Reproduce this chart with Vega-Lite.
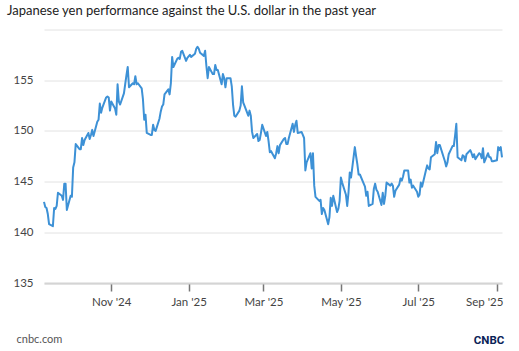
{
  "$schema": "https://vega.github.io/schema/vega-lite/v6.json",
  "autosize": {"type": "none"},
  "width": 458,
  "height": 253.5,
  "padding": {"left": 44, "top": 29.5, "right": 17, "bottom": 68},
  "background": "#ffffff",
  "title": {
    "text": "Japanese yen performance against the U.S. dollar in the past year",
    "anchor": "start",
    "frame": "group",
    "dx": -37,
    "offset": 12,
    "font": "Lato",
    "fontSize": 13,
    "fontWeight": "normal",
    "color": "#222222"
  },
  "config": {
    "view": {"stroke": null},
    "axis": {"labelFont": "Lato", "titleFont": "Lato"}
  },
  "data": {
    "values": [
      {"date": "2024-09-09", "rate": 143.0},
      {"date": "2024-09-10", "rate": 142.5},
      {"date": "2024-09-11", "rate": 142.4},
      {"date": "2024-09-12", "rate": 141.8},
      {"date": "2024-09-13", "rate": 140.8},
      {"date": "2024-09-16", "rate": 140.6},
      {"date": "2024-09-17", "rate": 142.4},
      {"date": "2024-09-18", "rate": 142.3},
      {"date": "2024-09-19", "rate": 142.6},
      {"date": "2024-09-20", "rate": 143.9},
      {"date": "2024-09-23", "rate": 143.6},
      {"date": "2024-09-24", "rate": 143.2},
      {"date": "2024-09-25", "rate": 144.8},
      {"date": "2024-09-26", "rate": 144.8},
      {"date": "2024-09-27", "rate": 142.2},
      {"date": "2024-09-30", "rate": 143.6},
      {"date": "2024-10-01", "rate": 143.5},
      {"date": "2024-10-02", "rate": 146.4},
      {"date": "2024-10-03", "rate": 146.9},
      {"date": "2024-10-04", "rate": 148.7},
      {"date": "2024-10-07", "rate": 148.2},
      {"date": "2024-10-08", "rate": 148.2},
      {"date": "2024-10-09", "rate": 149.3},
      {"date": "2024-10-10", "rate": 148.6},
      {"date": "2024-10-11", "rate": 149.1},
      {"date": "2024-10-14", "rate": 149.8},
      {"date": "2024-10-15", "rate": 149.2},
      {"date": "2024-10-16", "rate": 149.6},
      {"date": "2024-10-17", "rate": 150.1},
      {"date": "2024-10-18", "rate": 149.5},
      {"date": "2024-10-21", "rate": 150.9},
      {"date": "2024-10-22", "rate": 151.1},
      {"date": "2024-10-23", "rate": 152.7},
      {"date": "2024-10-24", "rate": 151.8},
      {"date": "2024-10-25", "rate": 152.3},
      {"date": "2024-10-28", "rate": 153.3},
      {"date": "2024-10-29", "rate": 153.4},
      {"date": "2024-10-30", "rate": 153.3},
      {"date": "2024-10-31", "rate": 152.0},
      {"date": "2024-11-01", "rate": 152.9},
      {"date": "2024-11-04", "rate": 152.2},
      {"date": "2024-11-05", "rate": 151.6},
      {"date": "2024-11-06", "rate": 154.6},
      {"date": "2024-11-07", "rate": 152.9},
      {"date": "2024-11-08", "rate": 152.6},
      {"date": "2024-11-11", "rate": 153.7},
      {"date": "2024-11-12", "rate": 154.6},
      {"date": "2024-11-13", "rate": 155.5},
      {"date": "2024-11-14", "rate": 156.3},
      {"date": "2024-11-15", "rate": 154.3},
      {"date": "2024-11-18", "rate": 154.7},
      {"date": "2024-11-19", "rate": 154.6},
      {"date": "2024-11-20", "rate": 155.4},
      {"date": "2024-11-21", "rate": 154.6},
      {"date": "2024-11-22", "rate": 154.7},
      {"date": "2024-11-25", "rate": 154.2},
      {"date": "2024-11-26", "rate": 153.1},
      {"date": "2024-11-27", "rate": 151.1},
      {"date": "2024-11-28", "rate": 151.6},
      {"date": "2024-11-29", "rate": 149.8},
      {"date": "2024-12-02", "rate": 149.6},
      {"date": "2024-12-03", "rate": 149.6},
      {"date": "2024-12-04", "rate": 150.6},
      {"date": "2024-12-05", "rate": 150.1},
      {"date": "2024-12-06", "rate": 150.0},
      {"date": "2024-12-09", "rate": 151.2},
      {"date": "2024-12-10", "rate": 151.9},
      {"date": "2024-12-11", "rate": 152.4},
      {"date": "2024-12-12", "rate": 152.6},
      {"date": "2024-12-13", "rate": 153.6},
      {"date": "2024-12-16", "rate": 154.1},
      {"date": "2024-12-17", "rate": 153.6},
      {"date": "2024-12-18", "rate": 154.7},
      {"date": "2024-12-19", "rate": 157.3},
      {"date": "2024-12-20", "rate": 156.3},
      {"date": "2024-12-23", "rate": 157.1},
      {"date": "2024-12-24", "rate": 157.2},
      {"date": "2024-12-25", "rate": 157.1},
      {"date": "2024-12-26", "rate": 157.8},
      {"date": "2024-12-27", "rate": 157.9},
      {"date": "2024-12-30", "rate": 156.9},
      {"date": "2024-12-31", "rate": 157.2},
      {"date": "2025-01-02", "rate": 157.5},
      {"date": "2025-01-03", "rate": 157.3},
      {"date": "2025-01-06", "rate": 157.6},
      {"date": "2025-01-07", "rate": 158.1},
      {"date": "2025-01-08", "rate": 158.3},
      {"date": "2025-01-09", "rate": 158.1},
      {"date": "2025-01-10", "rate": 157.7},
      {"date": "2025-01-13", "rate": 157.4},
      {"date": "2025-01-14", "rate": 157.9},
      {"date": "2025-01-15", "rate": 156.4},
      {"date": "2025-01-16", "rate": 155.2},
      {"date": "2025-01-17", "rate": 156.3},
      {"date": "2025-01-20", "rate": 155.6},
      {"date": "2025-01-21", "rate": 155.6},
      {"date": "2025-01-22", "rate": 156.5},
      {"date": "2025-01-23", "rate": 156.0},
      {"date": "2025-01-24", "rate": 156.0},
      {"date": "2025-01-27", "rate": 154.6},
      {"date": "2025-01-28", "rate": 155.6},
      {"date": "2025-01-29", "rate": 155.2},
      {"date": "2025-01-30", "rate": 154.3},
      {"date": "2025-01-31", "rate": 155.2},
      {"date": "2025-02-03", "rate": 155.2},
      {"date": "2025-02-04", "rate": 154.4},
      {"date": "2025-02-05", "rate": 152.6},
      {"date": "2025-02-06", "rate": 151.5},
      {"date": "2025-02-07", "rate": 151.4},
      {"date": "2025-02-10", "rate": 152.0},
      {"date": "2025-02-11", "rate": 152.5},
      {"date": "2025-02-12", "rate": 154.4},
      {"date": "2025-02-13", "rate": 152.8},
      {"date": "2025-02-14", "rate": 152.5},
      {"date": "2025-02-17", "rate": 151.5},
      {"date": "2025-02-18", "rate": 152.0},
      {"date": "2025-02-19", "rate": 151.5},
      {"date": "2025-02-20", "rate": 149.9},
      {"date": "2025-02-21", "rate": 149.3},
      {"date": "2025-02-24", "rate": 149.7},
      {"date": "2025-02-25", "rate": 149.0},
      {"date": "2025-02-26", "rate": 149.1},
      {"date": "2025-02-27", "rate": 149.8},
      {"date": "2025-02-28", "rate": 150.6},
      {"date": "2025-03-03", "rate": 149.5},
      {"date": "2025-03-04", "rate": 149.9},
      {"date": "2025-03-05", "rate": 149.0},
      {"date": "2025-03-06", "rate": 147.9},
      {"date": "2025-03-07", "rate": 148.0},
      {"date": "2025-03-10", "rate": 147.3},
      {"date": "2025-03-11", "rate": 147.8},
      {"date": "2025-03-12", "rate": 148.5},
      {"date": "2025-03-13", "rate": 147.8},
      {"date": "2025-03-14", "rate": 148.6},
      {"date": "2025-03-17", "rate": 149.2},
      {"date": "2025-03-18", "rate": 149.3},
      {"date": "2025-03-19", "rate": 148.7},
      {"date": "2025-03-20", "rate": 148.7},
      {"date": "2025-03-21", "rate": 149.3},
      {"date": "2025-03-24", "rate": 150.7},
      {"date": "2025-03-25", "rate": 149.9},
      {"date": "2025-03-26", "rate": 150.6},
      {"date": "2025-03-27", "rate": 151.0},
      {"date": "2025-03-28", "rate": 149.8},
      {"date": "2025-03-31", "rate": 149.9},
      {"date": "2025-04-01", "rate": 149.6},
      {"date": "2025-04-02", "rate": 149.3},
      {"date": "2025-04-03", "rate": 146.1},
      {"date": "2025-04-04", "rate": 146.9},
      {"date": "2025-04-07", "rate": 147.8},
      {"date": "2025-04-08", "rate": 146.3},
      {"date": "2025-04-09", "rate": 147.8},
      {"date": "2025-04-10", "rate": 144.6},
      {"date": "2025-04-11", "rate": 143.5},
      {"date": "2025-04-14", "rate": 143.1},
      {"date": "2025-04-15", "rate": 143.2},
      {"date": "2025-04-16", "rate": 141.8},
      {"date": "2025-04-17", "rate": 142.4},
      {"date": "2025-04-18", "rate": 142.2},
      {"date": "2025-04-21", "rate": 140.8},
      {"date": "2025-04-22", "rate": 141.5},
      {"date": "2025-04-23", "rate": 143.4},
      {"date": "2025-04-24", "rate": 142.6},
      {"date": "2025-04-25", "rate": 143.6},
      {"date": "2025-04-28", "rate": 142.0},
      {"date": "2025-04-29", "rate": 142.3},
      {"date": "2025-04-30", "rate": 143.1},
      {"date": "2025-05-01", "rate": 145.4},
      {"date": "2025-05-02", "rate": 144.9},
      {"date": "2025-05-05", "rate": 143.7},
      {"date": "2025-05-06", "rate": 142.6},
      {"date": "2025-05-07", "rate": 143.9},
      {"date": "2025-05-08", "rate": 145.9},
      {"date": "2025-05-09", "rate": 145.4},
      {"date": "2025-05-12", "rate": 148.4},
      {"date": "2025-05-13", "rate": 147.5},
      {"date": "2025-05-14", "rate": 146.7},
      {"date": "2025-05-15", "rate": 145.7},
      {"date": "2025-05-16", "rate": 145.7},
      {"date": "2025-05-19", "rate": 144.8},
      {"date": "2025-05-20", "rate": 144.5},
      {"date": "2025-05-21", "rate": 143.6},
      {"date": "2025-05-22", "rate": 144.0},
      {"date": "2025-05-23", "rate": 142.6},
      {"date": "2025-05-26", "rate": 142.8},
      {"date": "2025-05-27", "rate": 144.3},
      {"date": "2025-05-28", "rate": 144.8},
      {"date": "2025-05-29", "rate": 144.2},
      {"date": "2025-05-30", "rate": 144.0},
      {"date": "2025-06-02", "rate": 142.7},
      {"date": "2025-06-03", "rate": 143.9},
      {"date": "2025-06-04", "rate": 142.8},
      {"date": "2025-06-05", "rate": 143.6},
      {"date": "2025-06-06", "rate": 144.9},
      {"date": "2025-06-09", "rate": 144.6},
      {"date": "2025-06-10", "rate": 144.8},
      {"date": "2025-06-11", "rate": 144.6},
      {"date": "2025-06-12", "rate": 143.5},
      {"date": "2025-06-13", "rate": 144.1},
      {"date": "2025-06-16", "rate": 144.7},
      {"date": "2025-06-17", "rate": 145.3},
      {"date": "2025-06-18", "rate": 145.1},
      {"date": "2025-06-19", "rate": 145.5},
      {"date": "2025-06-20", "rate": 146.1},
      {"date": "2025-06-23", "rate": 146.1},
      {"date": "2025-06-24", "rate": 144.9},
      {"date": "2025-06-25", "rate": 145.2},
      {"date": "2025-06-26", "rate": 144.4},
      {"date": "2025-06-27", "rate": 144.6},
      {"date": "2025-06-30", "rate": 144.0},
      {"date": "2025-07-01", "rate": 143.5},
      {"date": "2025-07-02", "rate": 143.7},
      {"date": "2025-07-03", "rate": 144.9},
      {"date": "2025-07-04", "rate": 144.5},
      {"date": "2025-07-07", "rate": 146.1},
      {"date": "2025-07-08", "rate": 146.6},
      {"date": "2025-07-09", "rate": 146.3},
      {"date": "2025-07-10", "rate": 146.2},
      {"date": "2025-07-11", "rate": 147.4},
      {"date": "2025-07-14", "rate": 147.7},
      {"date": "2025-07-15", "rate": 148.9},
      {"date": "2025-07-16", "rate": 147.8},
      {"date": "2025-07-17", "rate": 148.6},
      {"date": "2025-07-18", "rate": 148.6},
      {"date": "2025-07-21", "rate": 147.4},
      {"date": "2025-07-22", "rate": 147.0},
      {"date": "2025-07-23", "rate": 146.5},
      {"date": "2025-07-24", "rate": 146.9},
      {"date": "2025-07-25", "rate": 147.7},
      {"date": "2025-07-28", "rate": 148.5},
      {"date": "2025-07-29", "rate": 148.5},
      {"date": "2025-07-30", "rate": 149.5},
      {"date": "2025-07-31", "rate": 150.7},
      {"date": "2025-08-01", "rate": 147.4},
      {"date": "2025-08-04", "rate": 147.1},
      {"date": "2025-08-05", "rate": 147.6},
      {"date": "2025-08-06", "rate": 147.5},
      {"date": "2025-08-07", "rate": 147.0},
      {"date": "2025-08-08", "rate": 147.7},
      {"date": "2025-08-11", "rate": 148.1},
      {"date": "2025-08-12", "rate": 147.8},
      {"date": "2025-08-13", "rate": 147.4},
      {"date": "2025-08-14", "rate": 147.7},
      {"date": "2025-08-15", "rate": 147.2},
      {"date": "2025-08-18", "rate": 147.8},
      {"date": "2025-08-19", "rate": 147.7},
      {"date": "2025-08-20", "rate": 147.3},
      {"date": "2025-08-21", "rate": 148.3},
      {"date": "2025-08-22", "rate": 146.9},
      {"date": "2025-08-25", "rate": 147.8},
      {"date": "2025-08-26", "rate": 147.4},
      {"date": "2025-08-27", "rate": 147.4},
      {"date": "2025-08-28", "rate": 147.0},
      {"date": "2025-08-29", "rate": 147.0},
      {"date": "2025-09-01", "rate": 147.1},
      {"date": "2025-09-02", "rate": 148.4},
      {"date": "2025-09-03", "rate": 148.1},
      {"date": "2025-09-04", "rate": 148.4},
      {"date": "2025-09-05", "rate": 147.4}
    ]
  },
  "mark": {"type": "line", "color": "#3d91d6", "strokeWidth": 2, "strokeJoin": "round"},
  "encoding": {
    "x": {
      "field": "date",
      "type": "temporal",
      "scale": {"type": "utc", "nice": false},
      "axis": {
        "title": "cnbc.com",
        "titleAnchor": "start",
        "titleAlign": "left",
        "titleX": -28,
        "titleY": 59,
        "titleBaseline": "alphabetic",
        "titleFontSize": 11,
        "titleFontWeight": "normal",
        "titleColor": "#555555",
        "tickCount": {"interval": "month", "step": 2},
        "labelExpr": "utcFormat(datum.value, \"%b '%y\")",
        "grid": false,
        "domain": true,
        "domainColor": "#d4d4d4",
        "domainWidth": 2,
        "ticks": true,
        "tickColor": "#777777",
        "tickWidth": 1.5,
        "tickSize": 8,
        "labelPadding": 5,
        "labelFontSize": 11.5,
        "labelColor": "#444444",
        "labelFlush": 12,
        "labelFlushOffset": 6
      }
    },
    "y": {
      "field": "rate",
      "type": "quantitative",
      "scale": {"domain": [135, 160], "nice": false, "zero": false},
      "axis": {
        "title": "CNBC",
        "titleAngle": 0,
        "titleX": 444.5,
        "titleY": 313.5,
        "titleAlign": "center",
        "titleBaseline": "alphabetic",
        "titleFont": "Roboto",
        "titleFontSize": 11.5,
        "titleFontWeight": "bold",
        "titleColor": "#0a2357",
        "values": [135, 140, 145, 150, 155, 160],
        "labelExpr": "datum.value == 160 ? '' : datum.label",
        "domain": false,
        "ticks": false,
        "grid": true,
        "gridColor": "#e2e2e2",
        "gridWidth": 1,
        "labelPadding": 11,
        "labelFontSize": 11.5,
        "labelColor": "#444444"
      }
    }
  }
}
